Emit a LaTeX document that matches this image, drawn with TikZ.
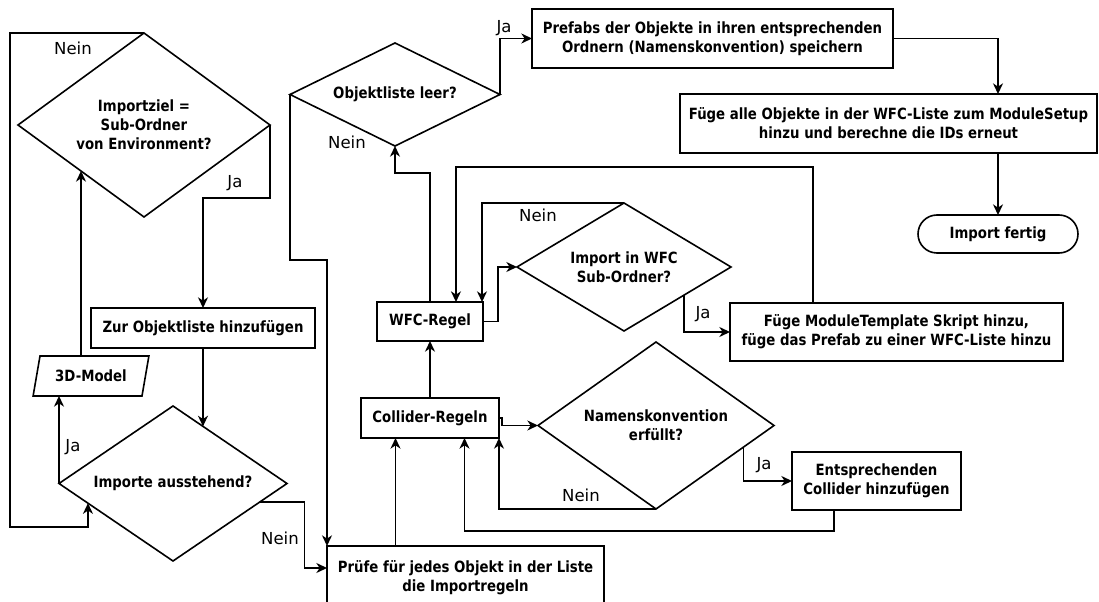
\documentclass[tikz,border=0pt]{standalone}
\usepackage{fontspec}
\newfontfamily\boxfont{DejaVu Sans}[FakeStretch=0.86]
\newfontfamily\tagfont{DejaVu Sans}
\usetikzlibrary{shapes.geometric,arrows.meta,calc}

\begin{document}
\begin{tikzpicture}[x=0.75pt,y=-0.75pt,
  every node/.style={inner sep=0pt, outer sep=0pt},
  sz/.style 2 args={minimum width={#1*0.75pt}, minimum height={#2*0.75pt}},
  base/.style={draw, line width=1.2pt, align=center,
    font=\boxfont\bfseries\fontsize{11.6}{14.4}\selectfont},
  proc/.style={base, rectangle},
  decide/.style={base, diamond},
  tag/.style={font=\tagfont\fontsize{12.4}{14}\selectfont},
  flow/.style={draw, line width=1.2pt, -{Stealth[length=8pt,width=7.5pt,inset=2.5pt]}},
]
\useasboundingbox (0,0) rectangle (1099,602);

% --- import loop (left) ---
\node[decide, sz={252}{184}, aspect=1.37] (d1) at (144,125) {Importziel =\\Sub-Ordner\\von Environment?};
\node[proc, sz={224}{40}] (zur) at (203,328) {Zur Objektliste hinzufügen};
\node[decide, sz={228}{155}, aspect=1.47] (d2) at (173,483.5) {Importe ausstehend?};
\node[base, trapezium, trapezium left angle=68, trapezium right angle=112,
  trapezium stretches=true, sz={116}{40}] (m3d) at (91,376) {3D-Model};

% --- object list check and finishing steps ---
\node[decide, sz={210}{103}, aspect=2.04] (d3) at (395,94.5) {Objektliste leer?};
\node[proc, sz={361}{59}] (pref) at (712.5,38.5) {Prefabs der Objekte in ihren entsprechenden\\Ordnern (Namenskonvention) speichern};
\node[proc, sz={417}{59}] (fuege) at (888.5,123.5) {Füge alle Objekte in der WFC-Liste zum ModuleSetup\\hinzu und berechne die IDs erneut};
\node[proc, rounded corners=14.25pt, sz={160}{38}] (fin) at (998,234) {Import fertig};

% --- import rules ---
\node[decide, sz={214}{128}, aspect=1.67] (d4) at (624,267) {Import in WFC\\Sub-Ordner?};
\node[proc, sz={333}{58}] (mt) at (896.5,332) {Füge ModuleTemplate Skript hinzu,\\füge das Prefab zu einer WFC-Liste hinzu};
\node[proc, sz={106}{39}] (wfc) at (430,321.5) {WFC-Regel};
\node[proc, sz={138}{40}] (col) at (430,418) {Collider-Regeln};
\node[decide, sz={236}{167}, aspect=1.41] (d5) at (656,425.5) {Namenskonvention\\erfüllt?};
\node[proc, sz={169}{58}] (ent) at (876.5,481) {Entsprechenden\\Collider hinzufügen};
\node[proc, sz={277}{64}] (pr) at (465.5,578) {Prüfe für jedes Objekt in der Liste\\die Importregeln};

% --- helper points on borders ---
\coordinate (d2in)  at ($(d2.west)!0.254!(d2.south)$);
\coordinate (d2top) at ($(d2.north)!0.263!(d2.east)$);
\coordinate (d2out) at ($(d2.east)!0.24!(d2.south)$);
\coordinate (nl)    at (10,527);
\coordinate (d4j)   at ($(d4.east)!0.44!(d4.south)$);
\coordinate (mtout) at ($(mt.north west)!0.25!(mt.north east)$);
\coordinate (wfcin) at ($(wfc.north)!0.49!(wfc.north east)$);
\coordinate (d4n)   at ($(wfc.north east)+(-1,0)$);
\coordinate (d5j)   at ($(d5.east)!0.26!(d5.south)$);
\coordinate (entout) at ($(ent.south west)!0.25!(ent.south east)$);
\coordinate (colin1) at ($(col.south west)!0.25!(col.south east)$);
\coordinate (colin2) at ($(col.south west)!0.75!(col.south east)$);
\coordinate (prin)  at ($(pr.west)+(0,-10)$);

% --- connectors ---
\path[flow] (d1.north) -| (nl) -| (d2in);
\path[flow] (d1.east) -- ++(0,73) -| (zur.north);
\path[flow] (zur.south) -- (d2top);
\path[flow] (d2.west) -- (d2.west |- m3d.south);
\path[flow] (d1.south west |- m3d.north) -- (d1.south west);
\path[flow] (d2out) -- ++(45,0) |- (prin);
\path[flow] (d3.west) -- ++(0,165.5) -| (pr.north west);
\path[flow] (d3.east) |- (pref.west);
\path[flow] (pref.east) -| (fin.north |- fuege.north);
\path[flow] (fin.north |- fuege.south) -- (fin.north);
\path[flow] (wfc.north) -- ++(0,-129) -| (d3.south);
\path[flow] (wfc.east) -- ++(15,0) |- (d4.west);
\path[flow] (d4.north) -| (d4n);
\path[flow] (d4j) |- (mt.west);
\path[flow] (mtout) -- ++(0,-136) -| (wfcin);
\path[flow] (col.north) -- (wfc.south);
\path[flow] (col.east) -- ++(3,0) |- (d5.west);
\path[flow] (d5.south) -| (col.south east);
\path[flow] (d5j) |- (ent.west);
\path[flow] (entout) -- ++(0,21) -| (colin2);
\path[flow] (colin1 |- pr.north) -- (colin1);

% --- branch labels ---
\node[tag] (l1) at (73,48) {Nein};
\node[tag] (l2) at (235,183) {Ja};
\node[tag] (l3) at (73,447) {Ja};
\node[tag] (l4) at (280,538) {Nein};
\node[tag] (l5) at (347,142) {Nein};
\node[tag] (l6) at (504,28) {Ja};
\node[tag] (l7) at (538,215) {Nein};
\node[tag] (l8) at (703,314) {Ja};
\node[tag] (l9) at (581,495) {Nein};
\node[tag] (l10) at (764,465) {Ja};
\end{tikzpicture}
\end{document}
